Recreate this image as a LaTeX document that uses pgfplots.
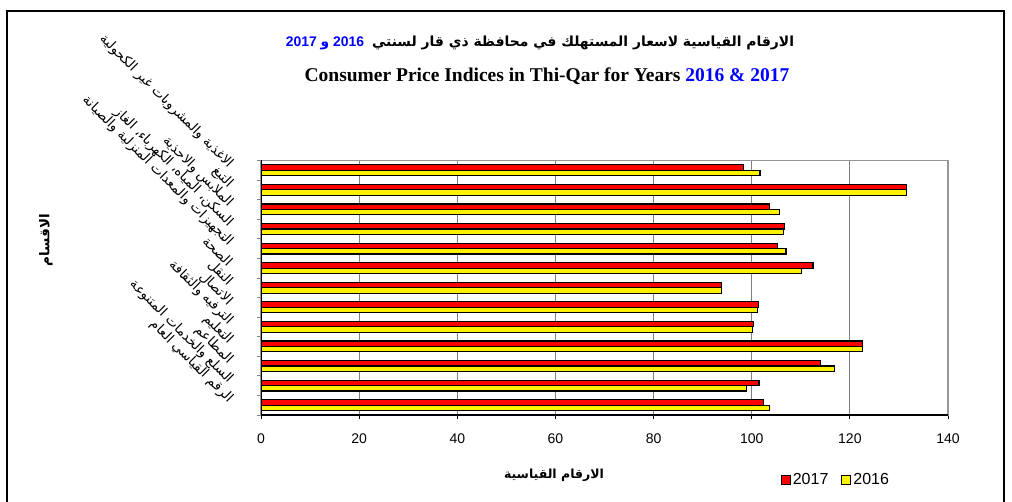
\documentclass[border=0pt]{standalone}
\usepackage{fontspec}
\usepackage{pgfplots}
\pgfplotsset{compat=1.18}
\setmainfont{Liberation Sans}
\newfontfamily\timesfont{Liberation Serif}
\newfontfamily\arabicfont[Script=Arabic]{DejaVu Sans}
\TeXXeTstate=1
\definecolor{gridgray}{RGB}{128,128,128}
\definecolor{bordergray}{RGB}{150,150,150}
\begin{document}
\begin{tikzpicture}[x=1pt,y=1pt]
\useasboundingbox (0pt,0pt) rectangle (1012pt,-502pt);
\draw[line width=2.5pt] (7pt,-540pt) -- (7pt,-11pt) -- (1004pt,-11pt) -- (1004pt,-540pt);
% titles
\node[font=\bfseries\fontsize{13.9}{17}\selectfont] at (540pt,-43pt)
  {\textcolor{blue}{2017 {\arabicfont و} 2016}\hspace{8pt}{\arabicfont\beginR الارقام القياسية لاسعار المستهلك في محافظة ذي قار لسنتي\endR}};
\node[font=\timesfont\bfseries\fontsize{19.5}{22}\selectfont] at (547pt,-76pt)
  {Consumer Price Indices in Thi-Qar for Years \textcolor{blue}{2016 \& 2017}};
% axis labels
\node[rotate=90, font=\arabicfont\bfseries\fontsize{13.5}{15}\selectfont] at (46pt,-240pt) {\beginR الاقسام\endR};
\node[font=\arabicfont\bfseries\fontsize{12.5}{15}\selectfont] at (554pt,-475pt) {\beginR الارقام القياسية\endR};
\begin{axis}[
  at={(261pt,-415pt)}, anchor=south west,
  scale only axis, width=687pt, height=254.6pt,
  xbar, bar width=5.4pt,
  xmin=0, xmax=140, xtick={0,20,...,140},
  ymin=-0.5, ymax=12.5, y dir=reverse,
  ytick={0,...,12},
  yticklabels={
    {\beginR الاغذية والمشروبات غير الكحولية\endR},
    {\beginR التبغ\endR},
    {\beginR الملابس والاحذية\endR},
    {\beginR السكن، المياه، الكهرباء، الغاز\endR},
    {\beginR التجهيزات والمعدات المنزلية والصيانة\endR},
    {\beginR الصحة\endR},
    {\beginR النقل\endR},
    {\beginR الاتصال\endR},
    {\beginR الترفيه والثقافة\endR},
    {\beginR التعليم\endR},
    {\beginR المطاعم\endR},
    {\beginR السلع والخدمات المتنوعة\endR},
    {\beginR الرقم القياسي العام\endR}},
  minor ytick={-0.5,0.5,...,12.5},
  tick align=outside,
  xtick pos=bottom, ytick pos=left,
  major y tick style={draw=none},
  minor y tick style={gridgray, line width=0.8pt},
  minor tick length=4pt,
  major tick length=4pt,
  x tick style={black, line width=0.8pt},
  xmajorgrids, major grid style={gridgray, line width=0.9pt},
  axis line style={bordergray, line width=1.2pt},
  x tick label style={font=\fontsize{14}{16}\selectfont, yshift=-11pt},
  /pgf/number format/assume math mode=true,
  yticklabel style={font=\arabicfont\fontsize{13.4}{15}\selectfont, xshift=-24pt, yshift=2pt, rotate=-45, anchor=east},
  legend columns=2,
  legend style={at={(axis description cs:0.752,-0.255)}, anchor=west, draw=none, fill=none,
    font=\fontsize{16}{18}\selectfont,
    /tikz/every even column/.append style={column sep=11pt}},
  legend image code/.code={\draw[#1, line width=1pt] (0pt,-4.5pt) rectangle (9pt,4.5pt);},
]
\addplot[fill=red, draw=black, line width=1.2pt, bar shift=2.7pt] coordinates {
 (98.3,0) (131.5,1) (103.6,2) (106.7,3) (105.3,4) (112.5,5) (93.9,6) (101.4,7) (100.4,8) (122.5,9) (114.0,10) (101.5,11) (102.4,12)};
\addlegendentry{2017}
\addplot[fill=yellow, draw=black, line width=1.2pt, bar shift=-2.7pt] coordinates {
 (101.7,0) (131.5,1) (105.7,2) (106.5,3) (107.0,4) (110.2,5) (93.9,6) (101.2,7) (100.1,8) (122.5,9) (116.9,10) (98.9,11) (103.6,12)};
\addlegendentry{2016}
\draw[black, line width=1.2pt] (axis description cs:0,1) -- (axis description cs:0,0) -- (axis description cs:1,0);
\end{axis}
\end{tikzpicture}
\end{document}
